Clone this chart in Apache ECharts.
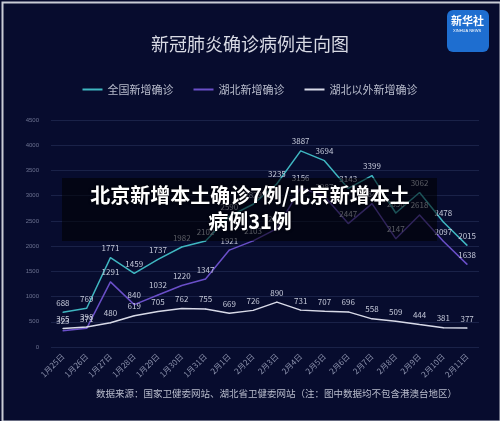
<!DOCTYPE html>
<html><head><meta charset="utf-8">
<script src="https://cdn.jsdelivr.net/npm/echarts@6/dist/echarts.min.js"></script>
<style>html,body{margin:0;padding:0;background:#c9ccd6;}#c{width:500px;height:421px;}</style>
</head><body><div id="c"></div>
<script>
const categories = ['1月25日','1月26日','1月27日','1月28日','1月29日','1月30日','1月31日','2月1日','2月2日','2月3日','2月4日','2月5日','2月6日','2月7日','2月8日','2月9日','2月10日','2月11日'];
const national = [688,769,1771,1459,1737,1982,2102,2590,2829,3235,3887,3694,3143,3399,2656,3062,2478,2015];
const hubei = [323,371,1291,840,1032,1220,1347,1921,2103,2345,3156,2987,2447,2841,2147,2618,2097,1638];
const outside = [365,398,480,619,705,762,755,669,726,890,731,707,696,558,509,444,381,377];
const F = '"Noto Sans CJK SC", sans-serif';
const chart = echarts.init(document.getElementById('c'));
const lbl = {show:true, position:'top', color:'#c4c8d8', fontSize:8, fontFamily:F, distance:5};
const mk = (name, data, color) => ({name, type:'line', data, symbol:'circle', symbolSize:1, showSymbol:true, lineStyle:{color, width:1.5}, itemStyle:{color}, label:lbl, labelLayout:{hideOverlap:false}});
chart.setOption({
  backgroundColor:'#070c2e',
  title:{text:'新冠肺炎确诊病例走向图', left:'center', top:30, textStyle:{color:'#d8dae4', fontSize:18, fontWeight:'normal', fontFamily:F}},
  legend:{top:79, left:'center', itemWidth:20, itemHeight:2, itemGap:20, icon:'rect', textStyle:{color:'#b8bccc', fontSize:11, fontFamily:F}},
  grid:{left:51, right:21, top:120, bottom:74},
  xAxis:{type:'category', data:categories, axisLine:{show:false}, axisTick:{show:false},
    axisLabel:{rotate:45, color:'#8c92ad', fontSize:8, fontFamily:F, margin:8}},
  yAxis:{type:'value', min:0, max:4500, interval:500, axisLabel:{color:'#6c7290', fontSize:6, margin:12, formatter:v=>String(v)},
    splitLine:{lineStyle:{color:'#1a2248'}}},
  series:[mk('全国新增确诊', national, '#3fb6c0'), mk('湖北新增确诊', hubei, '#6a4fc8'), mk('湖北以外新增确诊', outside, '#d8dae8')],
  graphic:[
    {type:'rect', left:0, top:0, shape:{width:498, height:419}, style:{fill:'none', stroke:'#c9ccd6', lineWidth:2}},
    {type:'rect', left:62, top:178, shape:{width:375, height:63}, style:{fill:'rgba(0,0,0,0.55)'}, z:100},
    {type:'text', left:'center', top:182, z:101, style:{text:'北京新增本土确诊7例/北京新增本土\n病例31例', textAlign:'center', fill:'#ffffff', font:'bold 20px "Noto Sans CJK SC"', lineHeight:26, textShadowColor:'#000', textShadowBlur:3}},
    {type:'rect', left:447, top:10, shape:{width:42, height:42, r:6}, style:{fill:'#1e6ed0'}},
    {type:'text', left:451, top:15, style:{text:'新华社', fill:'#fff', font:'bold 11px "Noto Sans CJK SC"'}},
    {type:'text', left:453, top:29, style:{text:'XINHUA NEWS', fill:'#fff', font:'4px sans-serif'}},
    {type:'text', left:96, top:389, style:{text:'数据来源：国家卫健委网站、湖北省卫健委网站（注：图中数据均不包含港澳台地区）', fill:'#b8bccc', font:'9.5px "Noto Sans CJK SC"'}}
  ]
});
</script></body></html>
